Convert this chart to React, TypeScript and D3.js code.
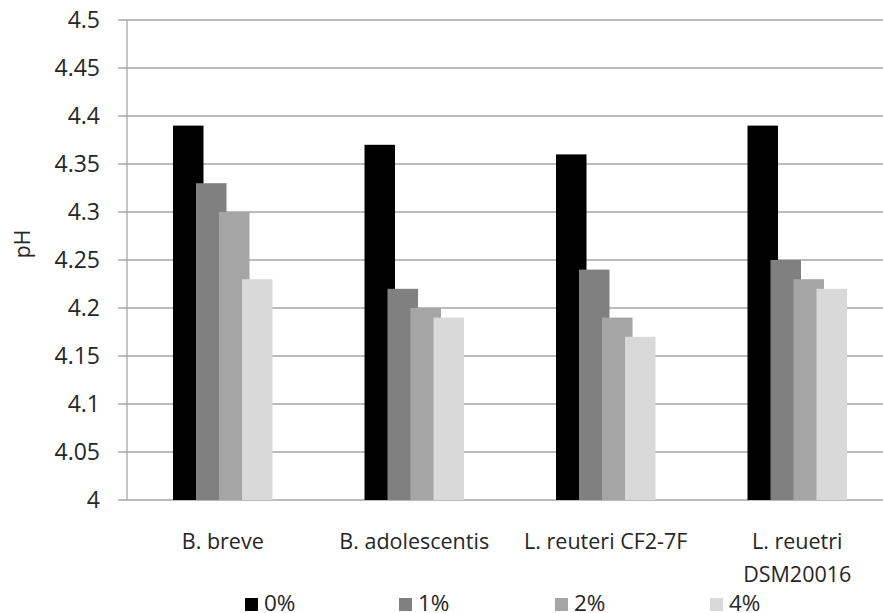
import React from "react";
import * as d3 from "d3";

// Strain categories (multi-line labels split by "\n")
const categories = ["B. breve", "B. adolescentis", "L. reuteri CF2-7F", "L. reuetri\nDSM20016"];
// Supplement concentration series
const seriesNames = ["0%", "1%", "2%", "4%"];
const seriesColors = ["#000000", "#808080", "#a5a5a5", "#d9d9d9"];
// pH values per series, in category order
const values0 = [4.39, 4.37, 4.36, 4.39];
const values1 = [4.33, 4.22, 4.24, 4.25];
const values2 = [4.3, 4.2, 4.19, 4.23];
const values4 = [4.23, 4.19, 4.17, 4.22];
const seriesValues = [values0, values1, values2, values4];
const yTicks = [4, 4.05, 4.1, 4.15, 4.2, 4.25, 4.3, 4.35, 4.4, 4.45, 4.5];

const W = 883;
const H = 613;
const plotLeft = 127;
const plotRight = 893;
const plotTop = 20;
const plotBottom = 500;
const FONT = "'Open Sans', sans-serif";

export default function App() {
  const x = d3.scaleBand<string>().domain(categories).range([plotLeft, plotRight]).padding(0);
  const y = d3.scaleLinear().domain([4, 4.5]).range([plotBottom, plotTop]);

  const barW = 30.5;
  const step = 23;
  const groupW = step * (seriesNames.length - 1) + barW;

  const legendX = [245, 399, 555, 710];

  return (
    <svg
      width={W}
      height={H}
      style={{ position: "absolute", left: 0, top: 0, background: "#fff" }}
      fontFamily={FONT}
    >
      <rect x={0} y={0} width={W} height={H} fill="#fff" />
      {/* horizontal gridlines and tick marks */}
      {yTicks.map((t) => (
        <g key={t}>
          <line x1={118} x2={W} y1={y(t)} y2={y(t)} stroke="#a6a6a6" strokeWidth={1.3} />
          <text x={100} y={y(t)} dy="0.36em" textAnchor="end" fontSize={23} fill="#262626">
            {String(t)}
          </text>
        </g>
      ))}
      {/* y axis line */}
      <line x1={plotLeft} x2={plotLeft} y1={plotTop} y2={plotBottom} stroke="#a6a6a6" strokeWidth={1.3} />

      {/* bars: each series drawn over the previous, overlapping */}
      {categories.map((c, ci) => {
        const cx = (x(c) as number) + x.bandwidth() / 2;
        const start = cx - groupW / 2;
        return (
          <g key={c}>
            {seriesValues.map((vals, si) => (
              <rect
                key={si}
                x={start + si * step}
                y={y(vals[ci])}
                width={barW}
                height={plotBottom - y(vals[ci])}
                fill={seriesColors[si]}
              />
            ))}
          </g>
        );
      })}

      {/* category labels */}
      {categories.map((c) => {
        const cx = (x(c) as number) + x.bandwidth() / 2;
        return c.split("\n").map((line, li) => (
          <text key={c + li} x={cx} y={549 + li * 33} textAnchor="middle" fontSize={21.5} fill="#262626">
            {line}
          </text>
        ));
      })}

      {/* y axis title */}
      <text
        transform={`translate(30, 244) rotate(-90)`}
        textAnchor="middle"
        fontSize={21}
        fill="#262626"
      >
        pH
      </text>

      {/* legend */}
      {seriesNames.map((s, i) => (
        <g key={s}>
          <rect x={legendX[i]} y={598} width={13} height={13} fill={seriesColors[i]} />
          <text x={legendX[i] + 19} y={611} fontSize={22.5} fill="#262626">
            {s}
          </text>
        </g>
      ))}
    </svg>
  );
}
